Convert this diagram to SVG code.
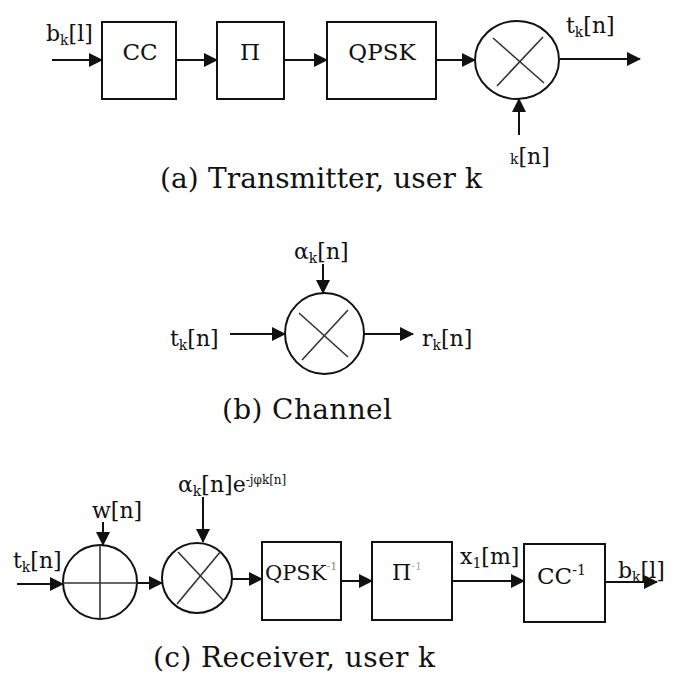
<svg xmlns="http://www.w3.org/2000/svg" width="681" height="675" viewBox="0 0 681 675">
<style>
.box{fill:#fff;stroke:#111;stroke-width:2}
.circ{fill:#fff;stroke:#111;stroke-width:2}
.cross{stroke:#333;stroke-width:1.6}
.wire{stroke:#111;stroke-width:2;fill:none;marker-end:url(#ah)}
text{font-family:"DejaVu Serif","Liberation Serif",serif;fill:#111}
.lbl{font-size:22px}
.sub{font-size:14px}
.btxt{font-size:23px;text-anchor:middle}
.cap{font-size:28px}
</style>
<defs>
<marker id="ah" markerUnits="userSpaceOnUse" markerWidth="14" markerHeight="14" refX="13" refY="7" orient="auto">
<path d="M0,0 L14,7 L0,14 Z" fill="#111"/>
</marker>
</defs>

<g id="connectors">
<line class="wire" x1="52" y1="60" x2="102" y2="60"/>
<line class="wire" x1="176" y1="60" x2="217" y2="60"/>
<line class="wire" x1="284" y1="60" x2="327" y2="60"/>
<line class="wire" x1="436" y1="60" x2="475" y2="60"/>
<line class="wire" x1="560" y1="59" x2="640" y2="59"/>
<line class="wire" x1="519" y1="135" x2="519" y2="99"/>

<line class="wire" x1="230" y1="334" x2="285" y2="334"/>
<line class="wire" x1="323" y1="264" x2="323" y2="293"/>
<line class="wire" x1="364" y1="334" x2="413" y2="334"/>

<line class="wire" x1="17" y1="584" x2="63" y2="584"/>
<line class="wire" x1="103" y1="522" x2="103" y2="545"/>
<line class="wire" x1="137" y1="583" x2="162" y2="583"/>
<line class="wire" x1="203" y1="497" x2="203" y2="542"/>
<line class="wire" x1="232" y1="579" x2="262" y2="579"/>
<line class="wire" x1="341" y1="581" x2="372" y2="581"/>
<line class="wire" x1="452" y1="581" x2="524" y2="581"/>
<line class="wire" x1="605" y1="582" x2="657" y2="582"/>
</g>

<g id="cc">
<rect class="box" x="102" y="22" width="74" height="77"/>
<text class="btxt" x="140" y="60">CC</text>
</g>
<g id="pi">
<rect class="box" x="217" y="22" width="67" height="77"/>
<text class="btxt" x="250" y="60">Π</text>
</g>
<g id="qpsk">
<rect class="box" x="327" y="22" width="109" height="77"/>
<text class="btxt" x="382" y="60" font-size="22">QPSK</text>
</g>
<g id="mult-tx">
<ellipse class="circ" cx="517" cy="60" rx="42" ry="39"/>
<line class="cross" x1="493" y1="38" x2="544" y2="83"/>
<line class="cross" x1="543" y1="37" x2="497" y2="86"/>
</g>
<g id="labels-tx">
<text class="lbl" x="46" y="41">b<tspan class="sub" dy="4">k</tspan><tspan dy="-4">[l]</tspan></text>
<text class="lbl" x="566" y="33">t<tspan class="sub" dy="4">k</tspan><tspan dy="-4">[n]</tspan></text>
<text class="lbl" x="510" y="164"><tspan class="sub">k</tspan>[n]</text>
<text class="cap" x="160" y="188" textLength="322" lengthAdjust="spacing">(a) Transmitter, user k</text>
</g>

<g id="mult-ch">
<ellipse class="circ" cx="324.5" cy="333.5" rx="39.5" ry="40.5"/>
<line class="cross" x1="299" y1="313" x2="348" y2="357"/>
<line class="cross" x1="348" y1="310" x2="302" y2="360"/>
</g>
<g id="labels-ch">
<text class="lbl" x="294" y="259">α<tspan class="sub" dy="4">k</tspan><tspan dy="-4">[n]</tspan></text>
<text class="lbl" x="170" y="346">t<tspan class="sub" dy="4">k</tspan><tspan dy="-4">[n]</tspan></text>
<text class="lbl" x="422" y="346">r<tspan class="sub" dy="4">k</tspan><tspan dy="-4">[n]</tspan></text>
<text class="cap" x="222" y="419" textLength="170" lengthAdjust="spacing">(b) Channel</text>
</g>

<g id="adder-rx">
<circle class="circ" cx="100" cy="582" r="37"/>
<line class="cross" x1="63" y1="583" x2="137" y2="583"/>
<line class="cross" x1="100" y1="545" x2="100" y2="619"/>
</g>
<g id="mult-rx">
<circle class="circ" cx="197" cy="578" r="35"/>
<line class="cross" x1="178" y1="552" x2="223" y2="600"/>
<line class="cross" x1="221" y1="551" x2="177" y2="604"/>
</g>
<g id="qpsk-inv">
<rect class="box" x="262" y="542" width="79" height="78"/>
<text x="265" y="580" font-size="21">QPSK<tspan font-size="11" dy="-10" fill="#888">-1</tspan></text>
</g>
<g id="pi-inv">
<rect class="box" x="372" y="542" width="80" height="78"/>
<text x="392" y="580" font-size="22">Π<tspan font-size="11" dy="-10" fill="#aaa">-1</tspan></text>
</g>
<g id="cc-inv">
<rect class="box" x="524" y="544" width="81" height="78"/>
<text x="537" y="584" font-size="23">CC<tspan font-size="14" dy="-9">-1</tspan></text>
</g>
<g id="labels-rx">
<text class="lbl" x="13" y="568">t<tspan class="sub" dy="4">k</tspan><tspan dy="-4">[n]</tspan></text>
<text class="lbl" x="92" y="518">w[n]</text>
<text class="lbl" x="178" y="492">α<tspan class="sub" dy="4">k</tspan><tspan dy="-4">[n]e</tspan><tspan font-size="12" dy="-8">-jφk[n]</tspan></text>
<text class="lbl" x="460" y="564">x<tspan class="sub" dy="4">1</tspan><tspan dy="-4">[m]</tspan></text>
<text class="lbl" x="618" y="578">b<tspan class="sub" dy="4">k</tspan><tspan dy="-4">[l]</tspan></text>
<text class="cap" x="153" y="667" textLength="282" lengthAdjust="spacing">(c) Receiver, user k</text>
</g>
</svg>
